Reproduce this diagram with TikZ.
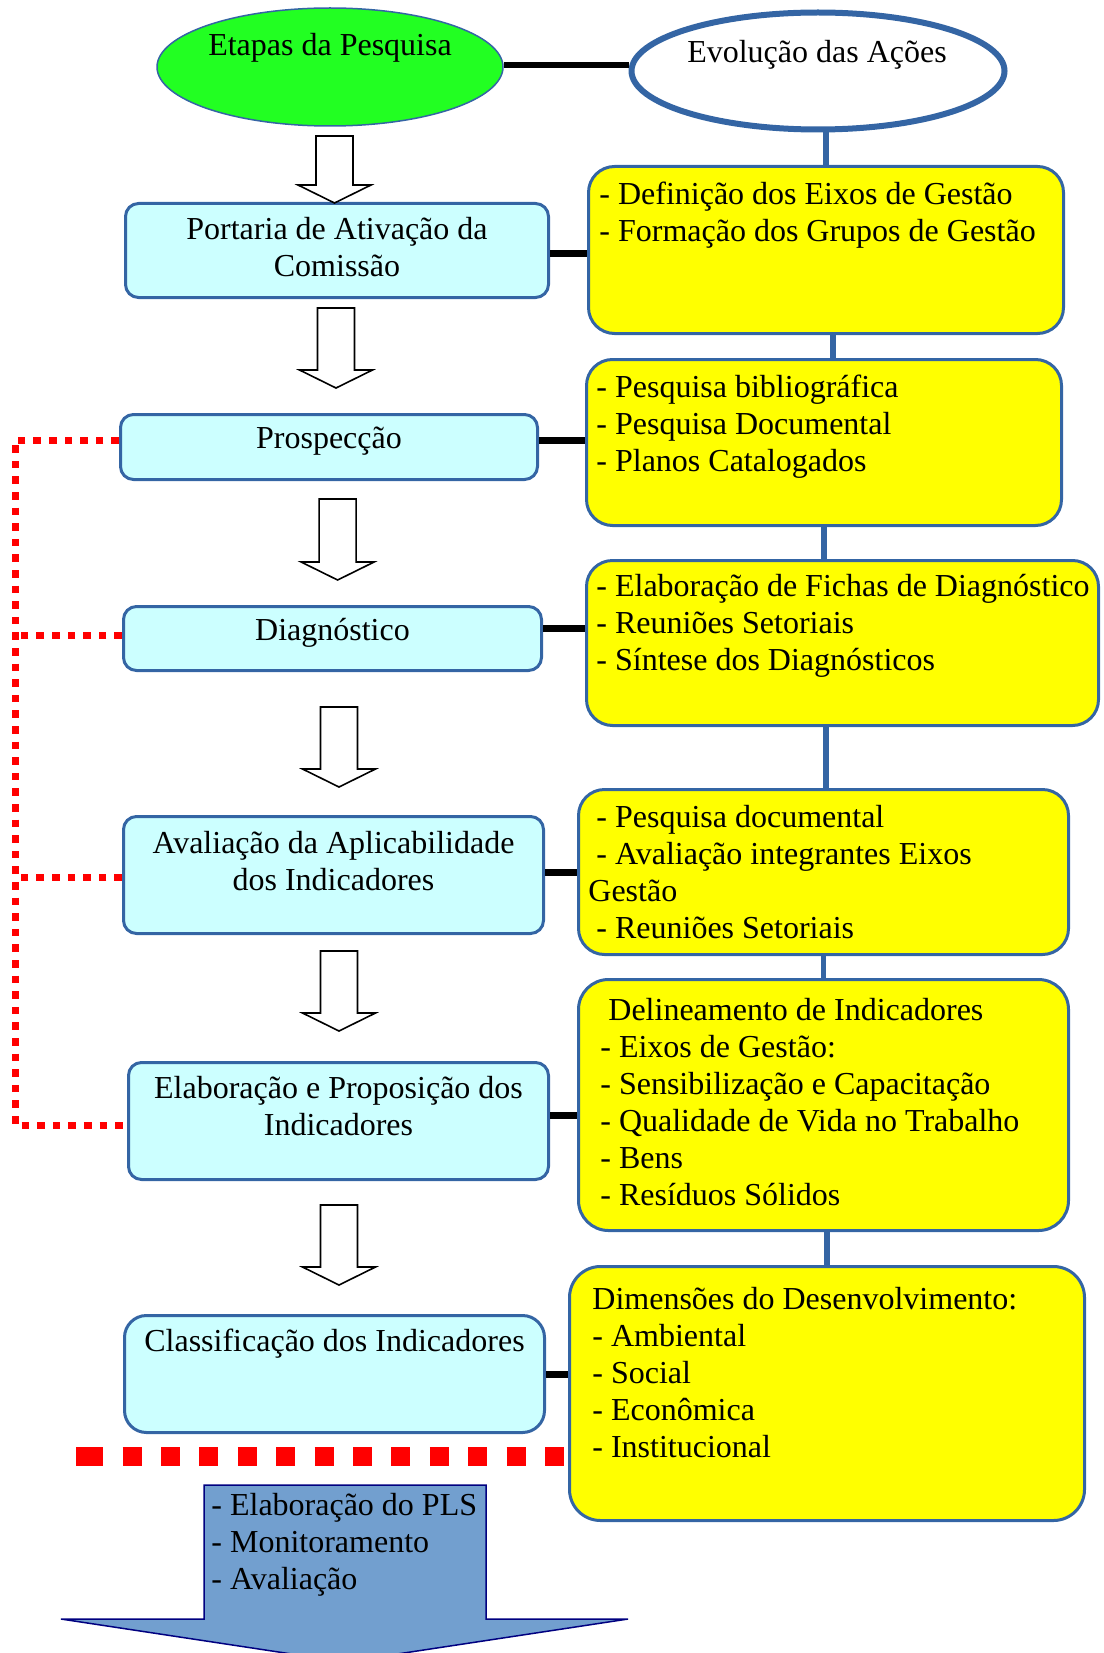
\documentclass[tikz,border=0pt]{standalone}
\usepackage{fontspec}
\setmainfont{Liberation Serif}
\usetikzlibrary{shapes.geometric}
\definecolor{bord}{HTML}{3465A4}
\definecolor{cyanf}{HTML}{CCFFFF}
\definecolor{greenf}{HTML}{22FF22}
\definecolor{yellowf}{RGB}{255,255,0}
\definecolor{redd}{RGB}{255,0,0}
\definecolor{arrowf}{HTML}{729FCF}
\definecolor{navyb}{HTML}{000080}
\newcommand\mystrut{\rule{0pt}{16pt}}
\newcommand\hollowdown[3]{%
  \draw[hollow] (#1-18.5,#2) -- (#1+18.5,#2) -- (#1+18.5,#3-18) -- (#1+36.5,#3-18) -- (#1,#3) -- (#1-36.5,#3-18) -- (#1-18.5,#3-18) -- cycle;}
\begin{document}
\begin{tikzpicture}[x=0.5pt,y=-0.5pt,
  txt/.style={inner sep=0pt, font=\fontsize{16}{18.5}\selectfont},
  stage/.style={draw=bord, fill=cyanf, line width=1.5pt, rounded corners=6.5pt, inner sep=0pt},
  action/.style={draw=bord, fill=yellowf, line width=1.5pt, rounded corners=13pt, inner sep=0pt},
  link/.style={line width=3.5pt, draw=black},
  vlink/.style={line width=2.75pt, draw=bord},
  reddot/.style={draw=redd, line width=3.5pt, dash pattern=on 3.8pt off 4pt},
  hollow/.style={draw=black, fill=white, line width=0.8pt, line join=miter}]

\useasboundingbox (0,0) rectangle (1103,1653);

% ellipses
\node[ellipse, draw=bord, fill=greenf, line width=0.75pt, minimum width=173pt, minimum height=59pt, inner sep=0pt] (ep) at (330,67) {};
\node[txt, anchor=north] (ept) at (330,23) {\mystrut Etapas da Pesquisa};
\node[ellipse, draw=bord, fill=white, line width=3pt, minimum width=186.5pt, minimum height=58.5pt, inner sep=0pt] (ev) at (818,71) {};
\node[txt, anchor=north] (evt) at (817,30) {\mystrut Evolução das Ações};
\draw[line width=3pt] ([yshift=1pt]ep.east) -- ([yshift=1pt]ep.east -| ev.west);

% stage boxes
\node[stage, minimum width=211.5pt, minimum height=47pt] (b1) at (337,250.5) {};
\node[stage, minimum width=208.5pt, minimum height=32.5pt] (b2) at (329,447) {};
\node[stage, minimum width=209pt, minimum height=32pt] (b3) at (332.5,638.5) {};
\node[stage, minimum width=210pt, minimum height=58.5pt] (b4) at (333.5,875) {};
\node[stage, minimum width=210pt, minimum height=58.5pt] (b5) at (338.5,1121) {};
\node[stage, rounded corners=11pt, minimum width=210pt, minimum height=58.5pt] (b6) at (334.5,1374) {};

\node[txt, anchor=north, align=center] (b1t) at (337,207) {\mystrut Portaria de Ativação da\\Comissão};
\node[txt, anchor=north] (b2t) at (329,416) {\mystrut Prospecção};
\node[txt, anchor=north] (b3t) at (332.5,608) {\mystrut Diagnóstico};
\node[txt, anchor=north, align=center] (b4t) at (333.5,821) {\mystrut Avaliação da Aplicabilidade\\dos Indicadores};
\node[txt, anchor=north, align=center] (b5t) at (338.5,1066) {\mystrut Elaboração e Proposição dos\\Indicadores};
\node[txt, anchor=north] (b6t) at (334.5,1319) {\mystrut Classificação dos Indicadores};

% action boxes
\node[action, minimum width=237.5pt, minimum height=83.5pt] (y1) at (826,250) {};
\node[action, minimum width=237.5pt, minimum height=83pt] (y2) at (824,442.5) {};
\node[action, minimum width=256pt, minimum height=82.5pt] (y3) at (842.5,643) {};
\node[action, minimum width=245pt, minimum height=82.5pt] (y4) at (823.5,872) {};
\node[action, rounded corners=15pt, minimum width=245pt, minimum height=125.5pt] (y5) at (823.5,1105) {};
\node[action, rounded corners=15.5pt, minimum width=257.5pt, minimum height=127pt] (y6) at (827,1393.5) {};

\node[txt, anchor=north west, align=left] (y1t) at (599,172) {\mystrut - Definição dos Eixos de Gestão\\- Formação dos Grupos de Gestão};
\node[txt, anchor=north west, align=left] (y2t) at (596,365) {\mystrut - Pesquisa bibliográfica\\- Pesquisa Documental\\- Planos Catalogados};
\node[txt, anchor=north west, align=left] (y3t) at (596,564) {\mystrut - Elaboração de Fichas de Diagnóstico\\- Reuniões Setoriais\\- Síntese dos Diagnósticos};
\node[txt, anchor=north west, align=left] (y4t) at (588,795) {\mystrut\hspace*{4pt}- Pesquisa documental\\\hspace*{4pt}- Avaliação integrantes Eixos\\Gestão\\\hspace*{4pt}- Reuniões Setoriais};
\node[txt, anchor=north west, align=left] (y5t) at (600,988) {\mystrut\hspace*{4pt}Delineamento de Indicadores\\- Eixos de Gestão:\\- Sensibilização e Capacitação\\- Qualidade de Vida no Trabalho\\- Bens\\- Resíduos Sólidos};
\node[txt, anchor=north west, align=left] (y6t) at (592,1277) {\mystrut Dimensões do Desenvolvimento:\\- Ambiental\\- Social\\- Econômica\\- Institucional};

% horizontal black links
\draw[link] ([yshift=-1.75pt]b1.east) -- ([yshift=-1.75pt]b1.east -| y1.west);
\draw[link] ([yshift=3.5pt]b2.east) -- ([yshift=3.5pt]b2.east -| y2.west);
\draw[link] ([yshift=5.25pt]b3.east) -- ([yshift=5.25pt]b3.east -| y3.west);
\draw[link] ([yshift=1.5pt]b4.east) -- ([yshift=1.5pt]b4.east -| y4.west);
\draw[link] ([yshift=3pt]b5.east) -- ([yshift=3pt]b5.east -| y5.west);
\draw[link] (b6.east) -- (b6.east -| y6.west);

% vertical blue links
\draw[vlink] (ev.south -| y1.north) -- (y1.north);
\draw[vlink] ([xshift=3.5pt]y1.south) -- ([xshift=3.5pt]y1.south |- y2.north);
\draw[vlink] (y2.south) -- (y2.south |- y3.north);
\draw[vlink] ([xshift=1.25pt]y4.north) -- ([xshift=1.25pt]y4.north |- y3.south);
\draw[vlink] (y4.south) -- (y4.south |- y5.north);
\draw[vlink] (y6.north) -- (y6.north |- y5.south);

% hollow arrows
\hollowdown{334.5}{136}{203}
\hollowdown{336}{308}{388}
\hollowdown{337.6}{499}{580}
\hollowdown{339}{707}{787}
\hollowdown{339}{951}{1031}
\hollowdown{339}{1205}{1285}

% red dotted feedback line
\coordinate (rl) at (15,440);
\draw[reddot] ([yshift=3.5pt]b2.west) -- ([yshift=3.5pt]b2.west -| rl) -- ([yshift=-2pt]b5.west -| rl) -- ([yshift=-2pt]b5.west);
\draw[reddot] ([yshift=1.75pt]b3.west) -- ([yshift=1.75pt]b3.west -| rl);
\draw[reddot] ([yshift=-1pt]b4.west) -- ([yshift=-1pt]b4.west -| rl);

% big red dashed separator
\draw[redd, line width=9.5pt] (76,1456) -- (90,1456);
\draw[redd, line width=9.5pt, dash pattern=on 9.5pt off 9.7pt] (84.2,1456) -- (564,1456);

% bottom block arrow
\draw[fill=arrowf, draw=navyb, line width=0.75pt] (204,1485) -- (486,1485) -- (486,1619) -- (628,1619) -- (344.5,1662) -- (61,1619) -- (204,1619) -- cycle;
\node[txt, anchor=north west, align=left] (plst) at (211,1483) {\mystrut - Elaboração do PLS\\- Monitoramento\\- Avaliação};
\end{tikzpicture}
\end{document}
